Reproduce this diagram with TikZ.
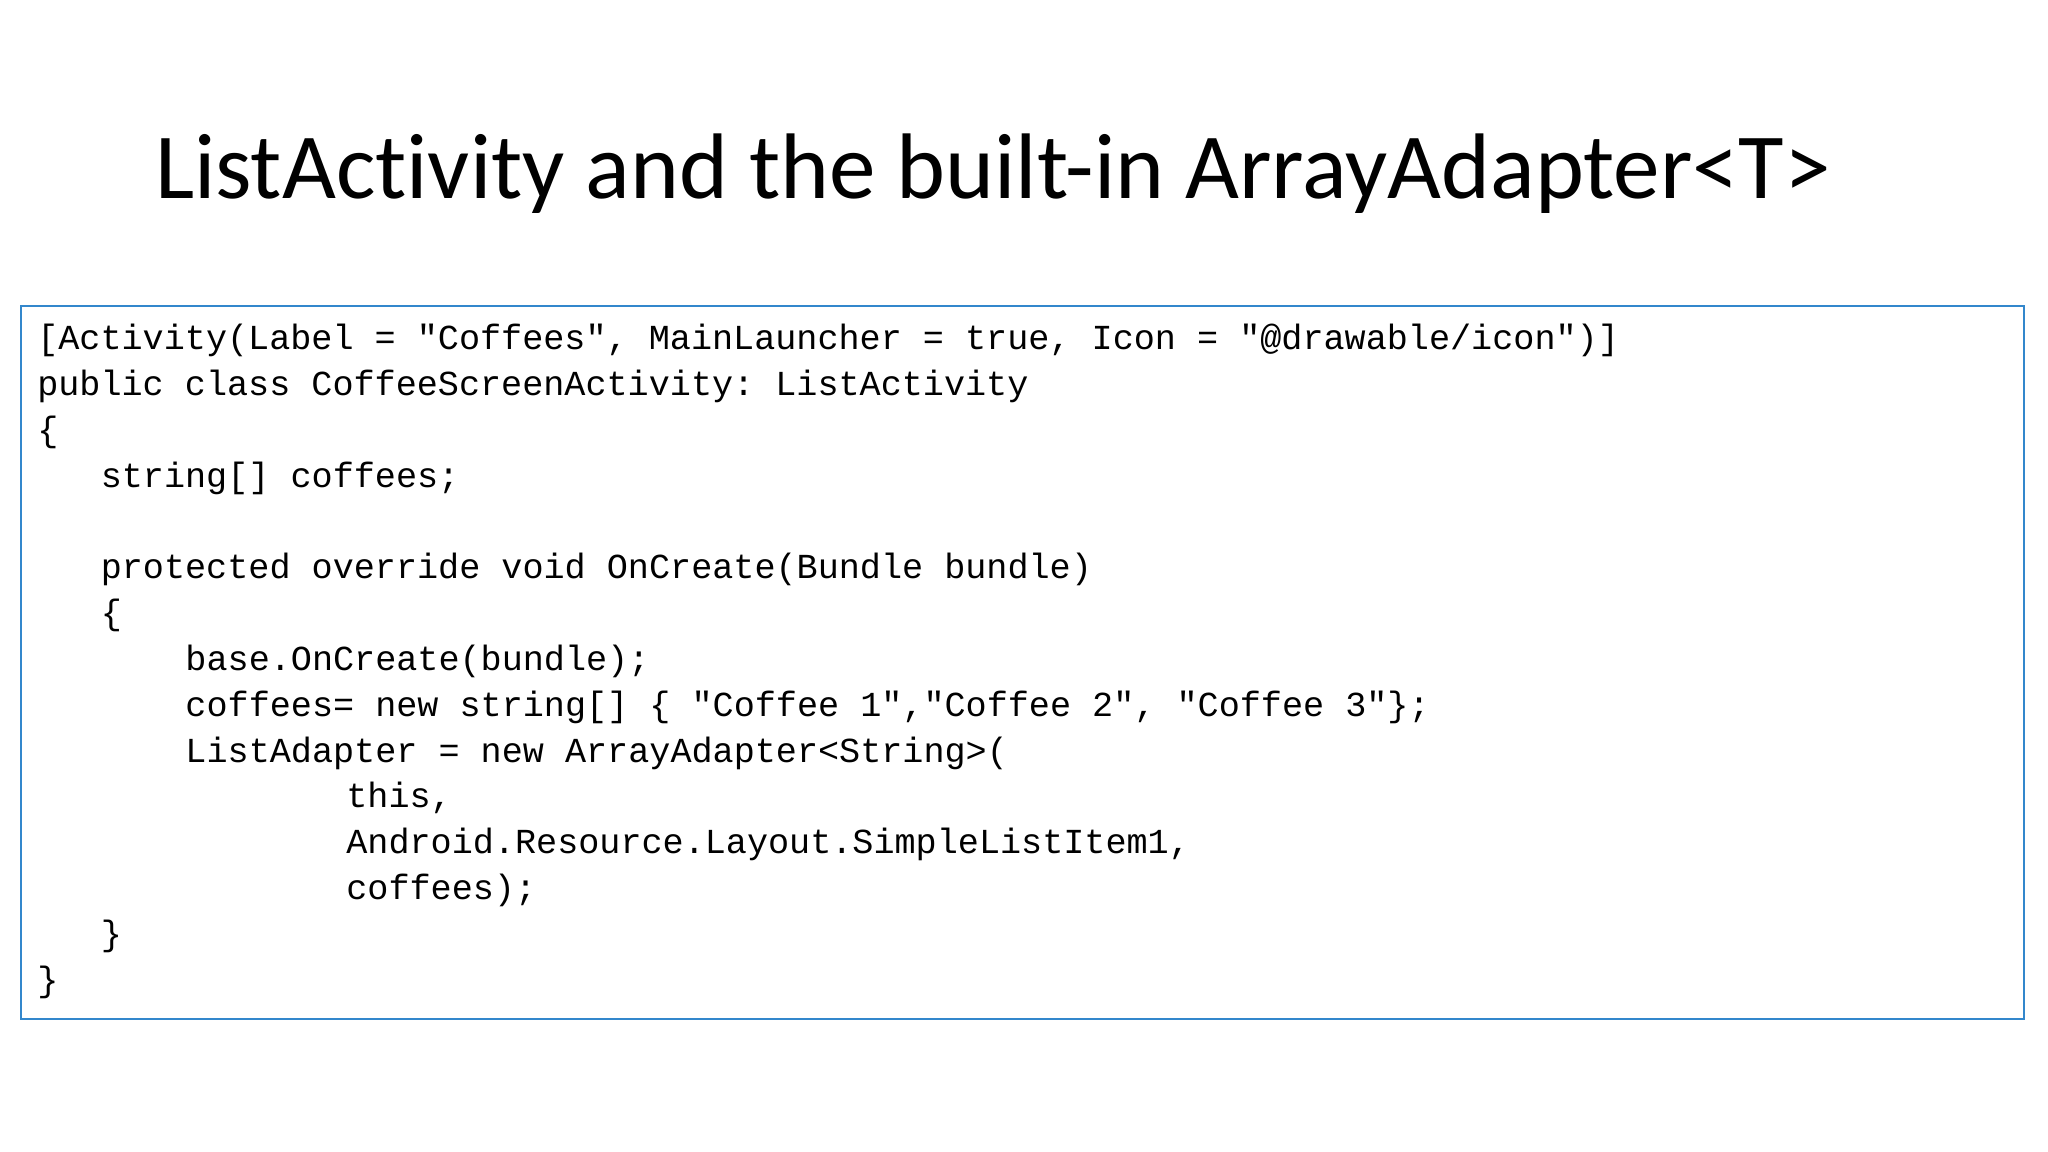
\documentclass[tikz,border=0pt]{standalone}
\usepackage{fontspec}
\setmainfont[Ligatures=NoCommon]{Carlito}
\setmonofont{Liberation Mono}
\usetikzlibrary{positioning}

\begin{document}
\begin{tikzpicture}
    [code/.style={anchor=base west,inner sep=0pt,font=\ttfamily\fontsize{10pt}{13pt}\selectfont},
     codebox/.style={draw=blue!45!cyan!60!gray,line width=0.8pt}]
    \useasboundingbox (0,0) rectangle (20.48,11.52);
    \node (title) at (9.93,9.78) {\fontsize{26.5pt}{31pt}\selectfont ListActivity and the built-in ArrayAdapter<T>};
    \draw[codebox] (0.21,1.33) rectangle (20.24,8.46);
    % code lines, one node each, indented in characters
    \def\cw{0.2117}
    \def\lh{0.458}
    \node[code] (l1) at (0.366,8.02) {[Activity(Label = "Coffees", MainLauncher = true, Icon = "@drawable/icon")]};
    \node[code] (l2) at (0.366,8.02-\lh) {public class CoffeeScreenActivity: ListActivity};
    \node[code] (l3) at (0.366,8.02-2*\lh) {\{};
    \node[code] (l4) at (0.366+3*\cw,8.02-3*\lh) {string[] coffees;};
    \node[code] (l6) at (0.366+3*\cw,8.02-5*\lh) {protected override void OnCreate(Bundle bundle)};
    \node[code] (l7) at (0.366+3*\cw,8.02-6*\lh) {\{};
    \node[code] (l8) at (0.366+7*\cw,8.02-7*\lh) {base.OnCreate(bundle);};
    \node[code] (l9) at (0.366+7*\cw,8.02-8*\lh) {coffees= new string[] \{ "Coffee 1","Coffee 2", "Coffee 3"\};};
    \node[code] (l10) at (0.366+7*\cw,8.02-9*\lh) {ListAdapter = new ArrayAdapter<String>(};
    \node[code] (l11) at (0.366+14.6*\cw,8.02-10*\lh) {this,};
    \node[code] (l12) at (0.366+14.6*\cw,8.02-11*\lh) {Android.Resource.Layout.SimpleListItem1,};
    \node[code] (l13) at (0.366+14.6*\cw,8.02-12*\lh) {coffees);};
    \node[code] (l14) at (0.366+3*\cw,8.02-13*\lh) {\}};
    \node[code] (l15) at (0.366,8.02-14*\lh) {\}};
\end{tikzpicture}
\end{document}
